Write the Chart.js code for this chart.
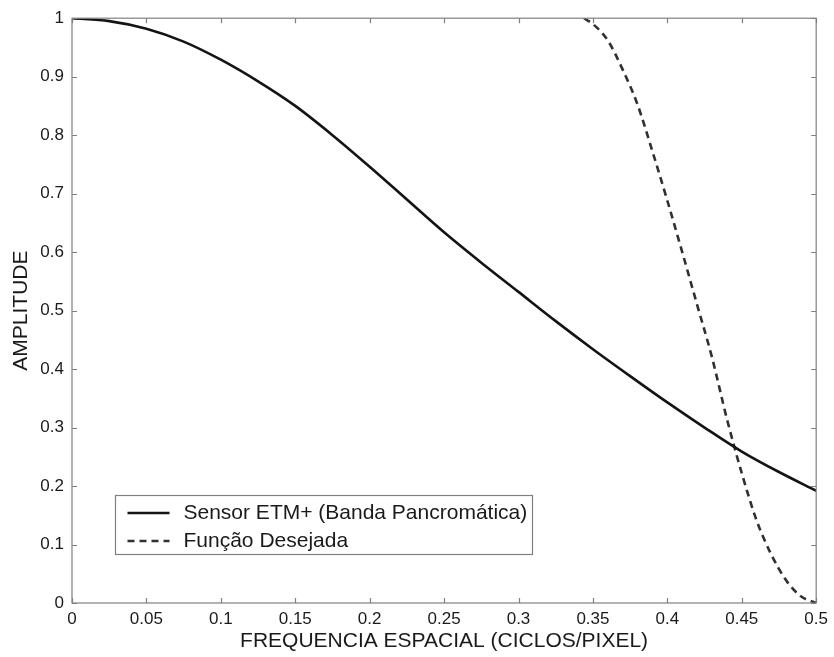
<!DOCTYPE html>
<html>
<head>
<meta charset="utf-8">
<script src="https://cdn.jsdelivr.net/npm/chart.js@4.4.1/dist/chart.umd.min.js"></script>
<style>
  html, body { margin: 0; padding: 0; background: #ffffff; }
  #wrap { width: 834px; height: 657px; }
</style>
</head>
<body>
<div id="wrap"><canvas id="c" width="834" height="657"></canvas></div>
<script>
// ---- data ----
const seriesNames = ['Sensor ETM+ (Banda Pancromática)', 'Função Desejada'];

const freqSensor = [0, 0.025, 0.05, 0.075, 0.1, 0.125, 0.15, 0.175, 0.2, 0.225, 0.25, 0.275, 0.3, 0.325, 0.35, 0.375, 0.4, 0.425, 0.45, 0.475, 0.5];
const ampSensor  = [1.0, 0.995, 0.982, 0.960, 0.929, 0.892, 0.850, 0.800, 0.746, 0.690, 0.634, 0.582, 0.532, 0.482, 0.434, 0.388, 0.343, 0.300, 0.259, 0.224, 0.192];

const freqDesired = [0.344, 0.35, 0.36, 0.37, 0.38, 0.39, 0.40, 0.41, 0.42, 0.43, 0.44, 0.45, 0.46, 0.47, 0.48, 0.49, 0.5];
const ampDesired  = [1.0, 0.99, 0.962, 0.912, 0.852, 0.772, 0.688, 0.600, 0.510, 0.420, 0.315, 0.222, 0.141, 0.082, 0.038, 0.011, 0.0];

const xTickValues = [0, 0.05, 0.1, 0.15, 0.2, 0.25, 0.3, 0.35, 0.4, 0.45, 0.5];
const yTickValues = [0, 0.1, 0.2, 0.3, 0.4, 0.5, 0.6, 0.7, 0.8, 0.9, 1];
const xAxisTitle = 'FREQUENCIA ESPACIAL (CICLOS/PIXEL)';
const yAxisTitle = 'AMPLITUDE';

// ---- chart ----
const FONT = '"Liberation Sans", Arial, Helvetica, sans-serif';
const AXIS_COLOR = '#808080';
const TEXT_COLOR = '#1a1a1a';

function toPoints(xs, ys) { return xs.map((x, i) => ({ x: x, y: ys[i] })); }
function fmt(v) { return String(parseFloat(v.toFixed(3))); }

const frameAndLegend = {
  id: 'frameAndLegend',
  afterDraw(chart) {
    const ctx = chart.ctx;
    const ca = chart.chartArea;
    const xs = chart.scales.x, ys = chart.scales.y;
    const tl = 5;
    ctx.save();
    ctx.strokeStyle = AXIS_COLOR;
    ctx.lineWidth = 1.2;
    ctx.strokeRect(ca.left, ca.top, ca.right - ca.left, ca.bottom - ca.top);
    ctx.beginPath();
    xTickValues.forEach(v => {
      const px = Math.round(xs.getPixelForValue(v)) + 0.5;
      ctx.moveTo(px, ca.bottom); ctx.lineTo(px, ca.bottom - tl);
      ctx.moveTo(px, ca.top); ctx.lineTo(px, ca.top + tl);
    });
    yTickValues.forEach(v => {
      const py = Math.round(ys.getPixelForValue(v)) + 0.5;
      ctx.moveTo(ca.left, py); ctx.lineTo(ca.left + tl, py);
      ctx.moveTo(ca.right, py); ctx.lineTo(ca.right - tl, py);
    });
    ctx.stroke();

    // legend box (inside the plot, lower left)
    const bx = ca.left + 43.5, by = ca.bottom - 107.5, bw = 417, bh = 59;
    ctx.fillStyle = '#ffffff';
    ctx.fillRect(bx, by, bw, bh);
    ctx.strokeStyle = AXIS_COLOR;
    ctx.lineWidth = 1.2;
    ctx.strokeRect(bx, by, bw, bh);
    const rows = [by + 17.5, by + 45.5];
    ctx.font = '21px ' + FONT;
    ctx.textBaseline = 'middle';
    ctx.textAlign = 'left';
    chart.data.datasets.forEach((ds, i) => {
      const y = rows[i];
      ctx.save();
      ctx.strokeStyle = ds.borderColor;
      ctx.lineWidth = ds.borderWidth;
      ctx.setLineDash(ds.borderDash || []);
      ctx.beginPath();
      ctx.moveTo(bx + 12, y);
      ctx.lineTo(bx + 54, y);
      ctx.stroke();
      ctx.restore();
      ctx.fillStyle = TEXT_COLOR;
      ctx.fillText(ds.label, bx + 68, y);
    });
    ctx.restore();
  }
};

new Chart(document.getElementById('c'), {
  type: 'line',
  data: {
    datasets: [
      {
        label: seriesNames[0],
        data: toPoints(freqSensor, ampSensor),
        borderColor: '#141414',
        borderWidth: 2.6,
        pointRadius: 0,
        fill: false,
        cubicInterpolationMode: 'monotone'
      },
      {
        label: seriesNames[1],
        data: toPoints(freqDesired, ampDesired),
        borderColor: '#303030',
        borderWidth: 2.6,
        borderDash: [7, 5],
        pointRadius: 0,
        fill: false,
        cubicInterpolationMode: 'monotone'
      }
    ]
  },
  options: {
    responsive: false,
    animation: false,
    devicePixelRatio: 1,
    layout: { padding: { left: 0, top: 16, right: 14, bottom: 0 } },
    plugins: { legend: { display: false }, tooltip: { enabled: false } },
    scales: {
      x: {
        type: 'linear',
        min: 0, max: 0.5,
        afterBuildTicks: s => { s.ticks = xTickValues.map(v => ({ value: v })); },
        afterFit: s => { s.height = 54; },
        grid: { display: false, drawTicks: false, tickLength: 0 },
        border: { display: false },
        ticks: {
          color: TEXT_COLOR,
          font: { family: FONT, size: 17 },
          padding: 6,
          maxRotation: 0,
          autoSkip: false,
          callback: v => fmt(v)
        },
        title: {
          display: true,
          text: xAxisTitle,
          color: TEXT_COLOR,
          font: { family: FONT, size: 21, lineHeight: 1 },
          padding: { top: 0, bottom: 5 }
        }
      },
      y: {
        type: 'linear',
        min: 0, max: 1,
        afterBuildTicks: s => { s.ticks = yTickValues.map(v => ({ value: v })); },
        afterFit: s => { s.width = 72; },
        grid: { display: false, drawTicks: false, tickLength: 0 },
        border: { display: false },
        ticks: {
          color: TEXT_COLOR,
          font: { family: FONT, size: 17 },
          padding: 8,
          autoSkip: false,
          callback: v => fmt(v)
        },
        title: {
          display: true,
          text: yAxisTitle,
          color: TEXT_COLOR,
          font: { family: FONT, size: 21, lineHeight: 1 },
          padding: { top: 11, bottom: 0 }
        }
      }
    }
  },
  plugins: [frameAndLegend]
});
</script>
</body>
</html>
